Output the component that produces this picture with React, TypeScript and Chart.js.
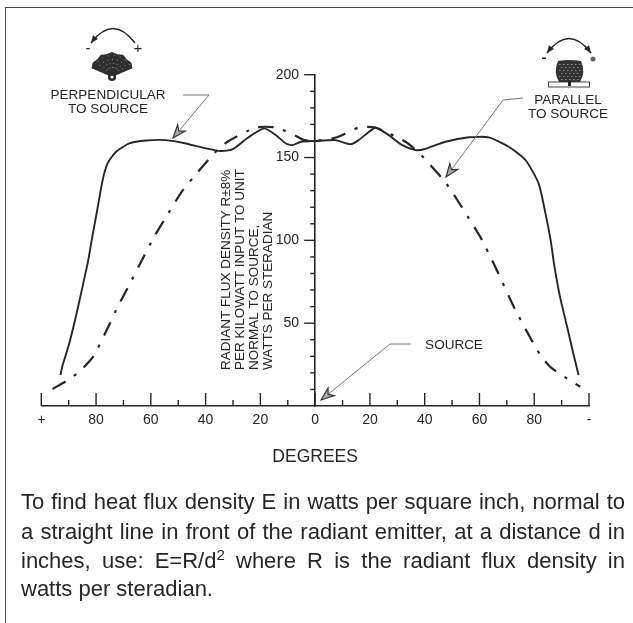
import React, { useEffect, useRef } from "react";
import { Chart, registerables } from "chart.js";

Chart.register(...registerables);

const FONT = '"Liberation Sans", Arial, sans-serif';
const INK = "#262626";

// Angle in degrees: positive to the left of the source, negative to the right.
const perpendicularDegrees = [93, 92.2, 89.8, 87.1, 83.1, 81.5, 79.4, 77.6, 75.8, 72.7, 67.9, 61.8, 54.5, 47.2, 39.9, 34.4, 30.2, 24.1, 18.6, 14.3, 10.7, 8.3, 5.2, 0, -7.4, -12.9, -15.9, -22, -26.9, -31.8, -36.6, -39.7, -47.6, -56.1, -63.4, -70.7, -76.8, -81.6, -84.1, -86, -87.3, -89.4, -92, -94.4, -96.2];
const perpendicularValues = [18.7, 24.7, 37.8, 56, 86, 101, 120, 136.4, 146.5, 153.5, 158.5, 160.3, 160.5, 158.5, 155.5, 153.9, 154.9, 162.5, 167.6, 163.5, 158.5, 157.5, 159.5, 160, 160.5, 158, 160.5, 168, 163.5, 157.5, 154.5, 155, 159.5, 162.2, 162.2, 156.5, 148.5, 134.4, 116.3, 100, 85, 66, 47.9, 30.8, 18.7];
const parallelDegrees = [95.9, 89.8, 85.5, 80.9, 75.8, 72.7, 67.3, 64.2, 58.8, 55.1, 49, 44.8, 36.9, 32, 21.6, 14.3, 7, 4, 0, -8, -15.9, -22, -33, -38.4, -46.4, -50, -56.1, -60.4, -65.2, -73.1, -82.2, -86.5, -96.8];
const parallelValues = [10.3, 16.1, 21.7, 30.2, 46.9, 57.9, 75, 85, 102.2, 112.3, 128.7, 137.4, 152.5, 159.5, 168.1, 168.1, 163, 160.5, 160, 162.2, 168.1, 168.1, 159.5, 152, 137.4, 129.3, 113.3, 101.8, 86, 58, 30.8, 22.7, 11.6];

const yTitleLines = ["RADIANT FLUX DENSITY R\u00B18%", "PER KILOWATT INPUT TO UNIT", "NORMAL TO SOURCE,", "WATTS PER STERADIAN"];
const captionLines = [
  "To find heat flux density E in watts per square inch, normal to",
  "a straight line in front of the radiant emitter, at a distance d in",
];

function arrowHead(ctx: CanvasRenderingContext2D, x: number, y: number, fromX: number, fromY: number) {
  const a = Math.atan2(y - fromY, x - fromX);
  const len = 14;
  const w = 0.36;
  ctx.save();
  ctx.beginPath();
  ctx.moveTo(x, y);
  ctx.lineTo(x - len * Math.cos(a - w), y - len * Math.sin(a - w));
  ctx.lineTo(x - len * 0.65 * Math.cos(a), y - len * 0.65 * Math.sin(a));
  ctx.lineTo(x - len * Math.cos(a + w), y - len * Math.sin(a + w));
  ctx.closePath();
  ctx.fillStyle = "#aaa";
  ctx.fill();
  ctx.strokeStyle = "#333";
  ctx.lineWidth = 1.2;
  ctx.stroke();
  ctx.restore();
}

function leader(ctx: CanvasRenderingContext2D, pts: number[][]) {
  ctx.save();
  ctx.strokeStyle = "#777";
  ctx.lineWidth = 1;
  ctx.beginPath();
  pts.forEach((p, i) => (i ? ctx.lineTo(p[0], p[1]) : ctx.moveTo(p[0], p[1])));
  ctx.stroke();
  ctx.restore();
  const n = pts.length;
  arrowHead(ctx, pts[n - 1][0], pts[n - 1][1], pts[n - 2][0], pts[n - 2][1]);
}

function swingArrow(ctx: CanvasRenderingContext2D, x0: number, y0: number, cx: number, cy: number, x1: number, y1: number, both: boolean) {
  ctx.save();
  ctx.strokeStyle = INK;
  ctx.fillStyle = INK;
  ctx.lineWidth = 1.5;
  ctx.beginPath();
  ctx.moveTo(x0, y0);
  ctx.quadraticCurveTo(cx, cy, x1, y1);
  ctx.stroke();
  const tip = (x: number, y: number, fx: number, fy: number) => {
    const a = Math.atan2(y - fy, x - fx);
    ctx.beginPath();
    ctx.moveTo(x, y);
    ctx.lineTo(x - 8 * Math.cos(a - 0.4), y - 8 * Math.sin(a - 0.4));
    ctx.lineTo(x - 8 * Math.cos(a + 0.4), y - 8 * Math.sin(a + 0.4));
    ctx.closePath();
    ctx.fill();
  };
  tip(x1, y1, (x1 + cx) / 2, (y1 + cy) / 2);
  if (both) tip(x0, y0, (x0 + cx) / 2, (y0 + cy) / 2);
  ctx.restore();
}

function drawFanIcon(ctx: CanvasRenderingContext2D) {
  swingArrow(ctx, 135, 43, 113, 14, 91, 43, false);
  ctx.save();
  ctx.fillStyle = INK;
  ctx.font = `15px ${FONT}`;
  ctx.textAlign = "center";
  ctx.textBaseline = "middle";
  ctx.fillText("-", 88, 49);
  ctx.fillText("+", 138, 49);
  const cx = 112, cy = 77;
  ctx.fillStyle = "#2e2e2e";
  ctx.beginPath();
  ctx.moveTo(cx, cy);
  for (let i = 0; i <= 10; i++) {
    const a = Math.PI * (1.1 + (0.8 * i) / 10);
    const r = 21.5 + (i % 2 ? 1.5 : 0);
    ctx.lineTo(cx + r * Math.cos(a), cy - 2 + r * Math.sin(a));
  }
  ctx.closePath();
  ctx.fill();
  ctx.fillStyle = "#8a8a8a";
  for (let r = 8; r <= 20; r += 4) {
    for (let i = 1; i < 8; i++) {
      const a = Math.PI * (1.12 + (0.76 * i) / 8 + (r % 8 ? 0.03 : 0));
      ctx.fillRect(cx + r * Math.cos(a), cy - 2 + r * Math.sin(a), 1, 1);
    }
  }
  ctx.fillStyle = INK;
  ctx.beginPath();
  ctx.arc(cx, cy, 4, 0, Math.PI * 2);
  ctx.fill();
  ctx.fillStyle = "#fff";
  ctx.beginPath();
  ctx.arc(cx, cy, 1.5, 0, Math.PI * 2);
  ctx.fill();
  ctx.restore();
}

function drawBarrelIcon(ctx: CanvasRenderingContext2D) {
  swingArrow(ctx, 547, 53, 569, 24, 591, 53, true);
  ctx.save();
  ctx.fillStyle = INK;
  ctx.fillRect(542, 57.5, 4, 1.5);
  ctx.fillStyle = "#666";
  ctx.beginPath();
  ctx.arc(593, 59, 2.5, 0, Math.PI * 2);
  ctx.fill();
  ctx.fillStyle = "#333";
  ctx.beginPath();
  ctx.moveTo(558, 61);
  ctx.quadraticCurveTo(569.5, 59, 581, 61);
  ctx.quadraticCurveTo(586, 72, 580, 82);
  ctx.lineTo(559, 82);
  ctx.quadraticCurveTo(553, 72, 558, 61);
  ctx.fill();
  ctx.fillStyle = "#8a8a8a";
  for (let y = 64; y < 81; y += 3) {
    for (let x = 559 + (y % 2) * 2; x < 580; x += 4) ctx.fillRect(x, y, 1.5, 1);
  }
  ctx.fillStyle = "#fff";
  ctx.strokeStyle = "#444";
  ctx.lineWidth = 1;
  ctx.fillRect(548.5, 82, 41, 5);
  ctx.strokeRect(548.5, 82, 41, 5);
  ctx.fillStyle = INK;
  ctx.fillRect(568, 80, 3, 6);
  ctx.restore();
}

const decorationsPlugin = {
  id: "decorations",
  afterDatasetsDraw(chart: any) {
    const ctx: CanvasRenderingContext2D = chart.ctx;
    const xs = chart.scales.x;
    const ys = chart.scales.y;
    const x0 = xs.getPixelForValue(0);
    const y0 = ys.getPixelForValue(0);
    ctx.save();
    ctx.strokeStyle = INK;
    ctx.lineWidth = 1.4;
    xs.ticks.forEach((t: any) => {
      const px = xs.getPixelForValue(t.value);
      ctx.beginPath();
      ctx.moveTo(px, y0);
      ctx.lineTo(px, y0 - (t.value % 20 === 0 ? 13 : 6));
      ctx.stroke();
    });
    ctx.fillStyle = INK;
    ctx.font = `14px ${FONT}`;
    ctx.textAlign = "right";
    ctx.textBaseline = "middle";
    ys.ticks.forEach((t: any) => {
      if (t.value === 0) return;
      const py = ys.getPixelForValue(t.value);
      const major = t.value % 50 === 0;
      ctx.beginPath();
      ctx.moveTo(x0, py);
      ctx.lineTo(x0 - (major ? 11 : 5), py);
      ctx.stroke();
      if (major) ctx.fillText(String(t.label), x0 - 16, py);
    });
    ctx.font = `13.5px ${FONT}`;
    ctx.textAlign = "center";
    ctx.fillText("PERPENDICULAR", 108, 95);
    ctx.fillText("TO SOURCE", 108, 109);
    ctx.fillText("PARALLEL", 568, 100);
    ctx.fillText("TO SOURCE", 568, 114);
    ctx.fillText("SOURCE", 454, 345);
    ctx.textAlign = "left";
    yTitleLines.forEach((line, i) => {
      ctx.save();
      ctx.translate(226.5 + i * 14, 370);
      ctx.rotate(-Math.PI / 2);
      ctx.fillText(line, 0, 0);
      ctx.restore();
    });
    ctx.restore();
    leader(ctx, [[183, 95], [209, 95], [173, 138]]);
    leader(ctx, [[523, 98], [503, 100], [446, 177]]);
    leader(ctx, [[411, 344], [390, 344], [321, 400]]);
    drawFanIcon(ctx);
    drawBarrelIcon(ctx);
  },
};

const toPoints = (xs: number[], ys: number[]) => xs.map((x, i) => ({ x, y: ys[i] }));

export default function App() {
  const ref = useRef<HTMLCanvasElement>(null);
  useEffect(() => {
    const chart = new Chart(ref.current!, {
      type: "line",
      data: {
        datasets: [
          {
            label: "Perpendicular to source",
            data: toPoints(perpendicularDegrees, perpendicularValues),
            borderColor: INK,
            borderWidth: 1.9,
            pointRadius: 0,
            tension: 0.2,
          },
          {
            label: "Parallel to source",
            data: toPoints(parallelDegrees, parallelValues),
            borderColor: INK,
            borderWidth: 2.2,
            borderDash: [15, 10, 3, 10],
            pointRadius: 0,
            tension: 0.2,
          },
        ],
      },
      options: {
        animation: false,
        responsive: false,
        parsing: false,
        layout: { padding: { top: 74.7, left: 41.3, right: 44, bottom: 155.8 } },
        plugins: { legend: { display: false }, tooltip: { enabled: false } },
        scales: {
          x: {
            type: "linear",
            reverse: true,
            min: -100,
            max: 100,
            afterFit: (s: any) => { s.height = 61.2; },
            grid: { drawOnChartArea: false, drawTicks: false },
            border: { display: true, color: INK, width: 1.6 },
            title: { display: true, text: "DEGREES", color: INK, font: { family: FONT, size: 17.5 }, padding: 0 },
            ticks: {
              stepSize: 10,
              autoSkip: false,
              maxRotation: 0,
              padding: 6,
              color: INK,
              font: { family: FONT, size: 14 },
              callback: (v: any) => {
                const n = Number(v);
                if (n === 100) return "+";
                if (n === -100) return "-";
                return n % 20 === 0 ? String(Math.abs(n)) : "";
              },
            },
          },
          y: {
            type: "linear",
            position: { x: 0 } as any,
            min: 0,
            max: 200,
            grid: { drawOnChartArea: false, drawTicks: false },
            border: { display: true, color: INK, width: 1.6 },
            ticks: {
              display: false,
              stepSize: 10,
              autoSkip: false,
              callback: (v: any) => (Number(v) % 50 === 0 && Number(v) !== 0 ? String(v) : ""),
            },
          },
        },
      } as any,
      plugins: [decorationsPlugin],
    });
    return () => chart.destroy();
  }, []);

  const lineStyle: React.CSSProperties = {
    position: "absolute",
    left: 21,
    width: 604,
    height: 29,
    lineHeight: "29px",
    fontFamily: FONT,
    fontSize: 22,
    color: INK,
  };
  const justified: React.CSSProperties = { textAlign: "justify", textAlignLast: "justify" };
  return (
    <div style={{ position: "absolute", left: 0, top: 0, width: 633, height: 623, overflow: "hidden", background: "#fff", filter: "blur(0.4px)" }}>
      <div style={{ position: "absolute", left: 5, top: 7, width: 640, height: 640, borderLeft: "1px solid #555", borderTop: "1px solid #444" }} />
      <canvas ref={ref} width={633} height={623} style={{ position: "absolute", left: 0, top: 0, display: "block" }} />
      {captionLines.map((t, i) => (
        <div key={i} style={{ ...lineStyle, ...justified, top: 487 + i * 29.5 }}>{t}</div>
      ))}
      <div style={{ ...lineStyle, ...justified, top: 546 }}>
        inches, use: E=R/d<sup style={{ fontSize: 15, lineHeight: 0 }}>2</sup> where R is the radiant flux density in
      </div>
      <div style={{ ...lineStyle, top: 574 }}>watts per steradian.</div>
    </div>
  );
}
